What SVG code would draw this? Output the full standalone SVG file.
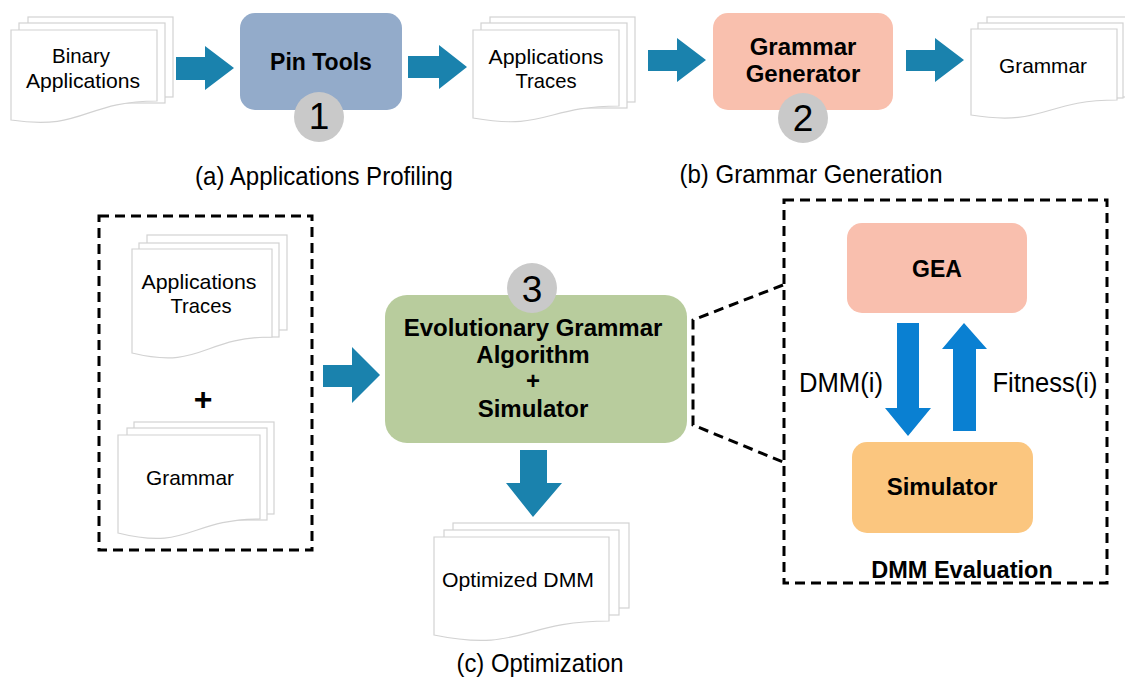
<svg xmlns="http://www.w3.org/2000/svg" width="1125" height="684" viewBox="0 0 1125 684">
<defs>
<style>
.t{font-family:"Liberation Sans",Arial,sans-serif;fill:#000;text-anchor:middle}
.r{font-size:21px}
.b{font-size:24px;font-weight:bold}
.cap{font-size:26px}
.pg{fill:#fff;stroke:#d2d2d2;stroke-width:1.2}
.arr{fill:#1a82ad}
.arr2{fill:#0a80d2}
.num{fill:#c9c9c9}
.numt{font-size:37px}
.dash{fill:none;stroke:#000;stroke-width:3;stroke-dasharray:10 6}
</style>
</defs>
<rect width="1125" height="684" fill="#fff"/>

<!-- Binary Applications -->
<g id="binary-apps">
<rect class="pg" x="28" y="17" width="145" height="80"/>
<rect class="pg" x="19" y="23" width="146" height="80"/>
<path class="pg" d="M11,30 H157 V101 C84,101 84,131 11,120 Z"/>
<text class="t r" x="81" y="63" textLength="58" lengthAdjust="spacingAndGlyphs">Binary</text>
<text class="t r" x="83" y="88" textLength="114" lengthAdjust="spacingAndGlyphs">Applications</text>
</g>

<!-- Pin Tools -->
<g id="pin-tools">
<rect x="240" y="13" width="162" height="97" rx="15" fill="#93abca"/>
<text class="t b" x="321" y="70" style="font-size:23px">Pin Tools</text>
<circle class="num" cx="319" cy="117" r="25"/>
<text class="t numt" x="319" y="129">1</text>
</g>

<!-- Applications Traces top -->
<g id="apps-traces-top">
<rect class="pg" x="490" y="17" width="145" height="85"/>
<rect class="pg" x="481" y="23" width="146" height="85"/>
<path class="pg" d="M473,30 H619 V106 C546,106 546,131 473,118 Z"/>
<text class="t r" x="546" y="64" textLength="115" lengthAdjust="spacingAndGlyphs">Applications</text>
<text class="t r" x="546" y="88" textLength="61" lengthAdjust="spacingAndGlyphs">Traces</text>
</g>

<!-- Grammar Generator -->
<g id="grammar-generator">
<rect x="713" y="13" width="180" height="97" rx="15" fill="#f9c0ae"/>
<text class="t b" x="803" y="55">Grammar</text>
<text class="t b" x="803" y="82">Generator</text>
<circle class="num" cx="803" cy="118" r="25"/>
<text class="t numt" x="803" y="131">2</text>
</g>

<!-- Grammar top -->
<g id="grammar-top">
<rect class="pg" x="987" y="17" width="145" height="80"/>
<rect class="pg" x="978" y="23" width="145" height="75"/>
<path class="pg" d="M971,29 H1117 V100 C1044,100 1044,127 971,115 Z"/>
<text class="t r" x="1043" y="73" textLength="88" lengthAdjust="spacingAndGlyphs">Grammar</text>
</g>

<!-- Captions -->
<g id="captions">
<text class="t cap" x="324" y="185" textLength="258" lengthAdjust="spacingAndGlyphs">(a) Applications Profiling</text>
<text class="t cap" x="811" y="183" textLength="263" lengthAdjust="spacingAndGlyphs">(b) Grammar Generation</text>
<text class="t cap" x="540" y="672" textLength="167" lengthAdjust="spacingAndGlyphs">(c) Optimization</text>
</g>

<!-- Input group -->
<g id="input-group">
<rect class="dash" x="99" y="216" width="213" height="334"/>
<rect class="pg" x="147" y="235" width="140" height="95"/>
<rect class="pg" x="139" y="243" width="140" height="94"/>
<path class="pg" d="M132,249 H272 V337 C202,337 202,370 132,353 Z"/>
<text class="t r" x="199" y="289" textLength="115" lengthAdjust="spacingAndGlyphs">Applications</text>
<text class="t r" x="201" y="313" textLength="61" lengthAdjust="spacingAndGlyphs">Traces</text>
<text class="t" x="203" y="410" style="font-size:32px;font-weight:bold">+</text>
<rect class="pg" x="134" y="422" width="140" height="92"/>
<rect class="pg" x="127" y="428" width="140" height="92"/>
<path class="pg" d="M118,435 H260 V519 C189,519 189,551 118,533 Z"/>
<text class="t r" x="190" y="485" textLength="88" lengthAdjust="spacingAndGlyphs">Grammar</text>
</g>

<!-- EGA -->
<g id="ega">
<rect x="385" y="295" width="302" height="148" rx="22" fill="#b8cc9d"/>
<circle class="num" cx="532" cy="288" r="25"/>
<text class="t numt" x="532" y="302">3</text>
<text class="t b" x="533" y="336">Evolutionary Grammar</text>
<text class="t b" x="533" y="363">Algorithm</text>
<text class="t b" x="533" y="389">+</text>
<text class="t b" x="533" y="417">Simulator</text>
</g>

<!-- Optimized DMM -->
<g id="optimized-dmm">
<rect class="pg" x="453" y="523" width="176" height="85"/>
<rect class="pg" x="444" y="530" width="175" height="85"/>
<path class="pg" d="M434,537 H609 V621 C521,621 521,653 434,635 Z"/>
<text class="t r" x="518" y="587" textLength="152" lengthAdjust="spacingAndGlyphs">Optimized DMM</text>
</g>

<!-- DMM Evaluation -->
<g id="dmm-evaluation">
<rect class="dash" x="784" y="200" width="323" height="383"/>
<text class="t b" x="962" y="578" style="font-size:23.5px">DMM Evaluation</text>
</g>
<g id="gea">
<rect x="847" y="223" width="180" height="90" rx="15" fill="#f9bfae"/>
<text class="t b" x="937" y="277" style="font-size:23px">GEA</text>
</g>
<g id="simulator">
<rect x="852" y="442" width="181" height="91" rx="15" fill="#fbc67f"/>
<text class="t b" x="942" y="495">Simulator</text>
</g>

<!-- Connectors -->
<g id="connectors">
<polygon class="arr" points="176,57 205,57 205,46 234,68 205,90 205,80 176,80"/>
<polygon class="arr" points="408,56 439,56 439,45 467,67 439,89 439,78 408,78"/>
<polygon class="arr" points="648,50 677,50 677,38 706,60 677,82 677,71 648,71"/>
<polygon class="arr" points="906,50 935,50 935,38 964,60 935,82 935,71 906,71"/>
<polygon class="arr" points="323,365 352,365 352,347 380,375 352,403 352,387 323,387"/>
<polygon class="arr" points="520,450 547,450 547,483 562,483 533,517 506,483 520,483"/>
<polygon class="arr2" points="897,323 919,323 919,408 931,408 908,436 885,408 897,408"/>
<polygon class="arr2" points="953,431 976,431 976,349 987,349 964,323 942,349 953,349"/>
<path class="dash" d="M783,285 L693,320 L693,425 L783,462"/>
<text class="t" x="841" y="392" style="font-size:27px" textLength="84" lengthAdjust="spacingAndGlyphs">DMM(i)</text>
<text class="t" x="1045" y="392" style="font-size:27px" textLength="105" lengthAdjust="spacingAndGlyphs">Fitness(i)</text>
</g>
</svg>
